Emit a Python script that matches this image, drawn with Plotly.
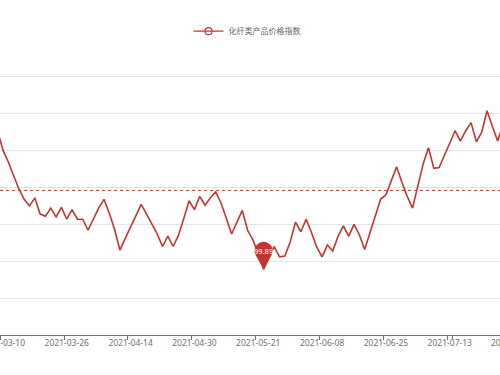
import math
import plotly.graph_objects as go

# ---- data ----
dates = [
    "2021-03-09", "2021-03-10", "2021-03-11", "2021-03-12", "2021-03-15", "2021-03-16", "2021-03-17",
    "2021-03-18", "2021-03-19", "2021-03-22", "2021-03-23", "2021-03-24", "2021-03-25", "2021-03-26",
    "2021-03-29", "2021-03-30", "2021-03-31", "2021-04-01", "2021-04-02", "2021-04-06", "2021-04-07",
    "2021-04-08", "2021-04-09", "2021-04-12", "2021-04-13", "2021-04-14", "2021-04-15", "2021-04-16",
    "2021-04-19", "2021-04-20", "2021-04-21", "2021-04-22", "2021-04-23", "2021-04-26", "2021-04-27",
    "2021-04-28", "2021-04-29", "2021-04-30", "2021-05-06", "2021-05-07", "2021-05-10", "2021-05-11",
    "2021-05-12", "2021-05-13", "2021-05-14", "2021-05-17", "2021-05-18", "2021-05-19", "2021-05-20",
    "2021-05-21", "2021-05-24", "2021-05-25", "2021-05-26", "2021-05-27", "2021-05-28", "2021-05-31",
    "2021-06-01", "2021-06-02", "2021-06-03", "2021-06-04", "2021-06-07", "2021-06-08", "2021-06-09",
    "2021-06-10", "2021-06-11", "2021-06-15", "2021-06-16", "2021-06-17", "2021-06-18", "2021-06-21",
    "2021-06-22", "2021-06-23", "2021-06-24", "2021-06-25", "2021-06-28", "2021-06-29", "2021-06-30",
    "2021-07-01", "2021-07-02", "2021-07-05", "2021-07-06", "2021-07-07", "2021-07-08", "2021-07-09",
    "2021-07-12", "2021-07-13", "2021-07-14", "2021-07-15", "2021-07-16", "2021-07-19", "2021-07-20",
    "2021-07-21", "2021-07-22", "2021-07-23", "2021-07-26", "2021-07-27", "2021-07-28", "2021-07-29",
]
index_values = [
    101.77, 101.51, 101.35, 101.17, 100.98, 100.84, 100.75,
    100.86, 100.64, 100.61, 100.72, 100.60, 100.73, 100.57,
    100.70, 100.57, 100.57, 100.42, 100.58, 100.72, 100.84,
    100.65, 100.43, 100.15, 100.31, 100.46, 100.63, 100.77,
    100.64, 100.50, 100.37, 100.20, 100.34, 100.20, 100.35,
    100.58, 100.82, 100.70, 100.88, 100.76, 100.86, 100.94,
    100.79, 100.58, 100.37, 100.53, 100.69, 100.42, 100.29,
    100.10, 99.89, 100.05, 100.20, 100.06, 100.07, 100.26,
    100.53, 100.40, 100.57, 100.39, 100.19, 100.06, 100.22,
    100.14, 100.34, 100.48, 100.34, 100.50, 100.36, 100.16,
    100.38, 100.60, 100.84, 100.90, 101.10, 101.28, 101.07,
    100.88, 100.72, 101.03, 101.32, 101.54, 101.26, 101.27,
    101.44, 101.60, 101.77, 101.63, 101.77, 101.88, 101.62,
    101.75, 102.04, 101.83, 101.63, 101.85, 101.90, 101.80,
]
tick_labels = ["2021-03-10", "2021-03-26", "2021-04-14", "2021-04-30", "2021-05-21",
               "2021-06-08", "2021-06-25", "2021-07-13", "2021-07-29"]
series_name = "化纤类产品价格指数"
average_value = 100.96

# ---- styling ----
RED = "#C23531"
GRID = "#E0E6F1"
AXIS = "#6E7079"
TICK_FONT = dict(size=8.5, color=AXIS, family="Noto Sans")

fig = go.Figure()
fig.add_trace(go.Scatter(
    x=dates, y=index_values, mode="lines", name=series_name,
    line=dict(color=RED, width=1.6), showlegend=False, hoverinfo="x+y",
))
# legend entry (line + empty circle icon)
fig.add_trace(go.Scatter(
    x=[None], y=[None], mode="lines+markers", name=series_name,
    line=dict(color=RED, width=1.2),
    marker=dict(symbol="circle-open", size=7, color=RED, line=dict(width=1.2)),
    showlegend=True,
))

# average mark line
fig.add_shape(type="line", xref="paper", x0=0, x1=1, yref="y",
              y0=average_value, y1=average_value,
              line=dict(color=RED, width=1, dash="3px,3px"))

# min mark point (pin)
min_i = min(range(len(index_values)), key=lambda k: index_values[k])
min_v = index_values[min_i]
r = 9.0
c = 18.5
L = math.sqrt(c * c - r * r)
tx = L * r / c
ty = (c * c - r * r) / c
a0 = math.atan2(ty - c, tx)
a1 = math.pi - a0
pts = []
n = 28
for k in range(n + 1):
    a = a0 + (a1 - a0) * k / n
    pts.append((r * math.cos(a), c + r * math.sin(a)))
path = "M 0,0 " + " ".join("L %.2f,%.2f" % p for p in pts) + " Z"
fig.add_shape(type="path", xref="x", yref="y", xsizemode="pixel", ysizemode="pixel",
              xanchor=min_i, yanchor=min_v, path=path,
              fillcolor=RED, line=dict(color=RED, width=0))
fig.add_annotation(x=dates[min_i], y=min_v, yshift=c, text="%.2f" % min_v,
                   showarrow=False, font=dict(color="white", size=7.5, family="Noto Sans"))

# axis range so that the reference crop is reproduced
x_start = 0.455
x_end = 94.44

# tick labels whose category lies just past the visible range (partly visible at the edge)
for lab in tick_labels:
    k = dates.index(lab)
    if k > x_end or k < x_start:
        fig.add_annotation(xref="paper", yref="paper",
                           x=(k - x_start) / (x_end - x_start), y=0,
                           xanchor="center", yanchor="top", yshift=0,
                           text=lab, showarrow=False, font=TICK_FONT)

fig.update_layout(
    width=500, height=375,
    margin=dict(l=0, r=0, t=40, b=40, autoexpand=False),
    paper_bgcolor="white", plot_bgcolor="white",
    font=dict(family="Noto Sans, Noto Sans CJK SC", color=AXIS, size=8.5),
    showlegend=True,
    legend=dict(orientation="h", x=0.494, xanchor="center", y=1.03, yanchor="middle",
                font=dict(size=8, color="#666666", family="Noto Sans CJK SC"),
                itemwidth=30, bgcolor="rgba(0,0,0,0)"),
    xaxis=dict(type="category", range=[x_start, x_end], autorange=False, automargin=False,
               tickson="boundaries",
               tickmode="array", tickvals=[d for d in tick_labels if d in dates],
               tickangle=0,
               showgrid=False, showline=True, linecolor=AXIS, linewidth=1,
               ticks="outside", ticklen=4, tickcolor=AXIS, tickfont=TICK_FONT,
               zeroline=False),
    yaxis=dict(range=[99, 103], autorange=False, automargin=False, dtick=0.5, tick0=99,
               showgrid=True, gridcolor=GRID, gridwidth=1,
               showticklabels=False, zeroline=False, showline=False),
)

fig.write_html("out.html", config={"displayModeBar": False},
               post_script="document.body.style.margin='0';")
